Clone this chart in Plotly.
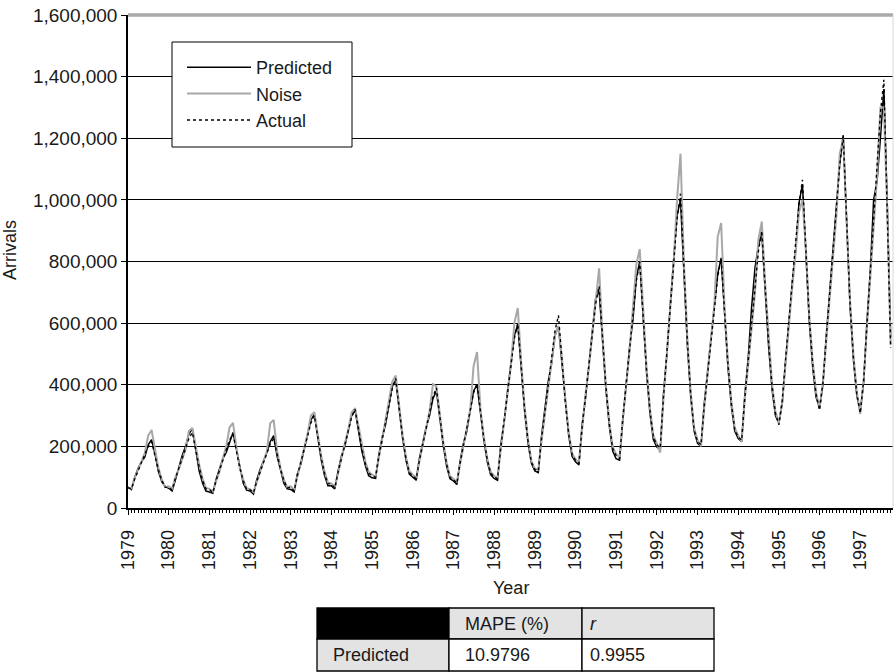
import pandas as pd
import plotly.graph_objects as go

# Monthly tourist arrivals, Jan 1979 - Oct 1997 (thousands)
actual_k = [
    66, 62, 93, 120, 146, 172, 200, 215, 168, 124, 89, 67,
    67, 58, 95, 129, 161, 193, 226, 245, 187, 132, 89, 62,
    60, 50, 88, 122, 155, 187, 221, 240, 183, 130, 88, 61,
    59, 50, 85, 117, 146, 176, 208, 225, 174, 126, 89, 65,
    67, 55, 104, 148, 190, 231, 276, 300, 230, 164, 112, 79,
    78, 65, 116, 162, 205, 249, 295, 320, 254, 192, 144, 113,
    104, 100, 164, 222, 276, 330, 388, 420, 323, 232, 160, 115,
    104, 95, 154, 207, 257, 307, 361, 390, 297, 210, 142, 99,
    92, 80, 145, 204, 259, 314, 373, 405, 312, 225, 157, 114,
    100, 95, 196, 287, 373, 459, 550, 600, 456, 322, 216, 149,
    125, 120, 221, 312, 398, 484, 575, 625, 481, 347, 241, 174,
    155, 145, 260, 364, 461, 559, 663, 720, 552, 395, 272, 194,
    170, 160, 288, 403, 512, 621, 736, 800, 619, 449, 316, 231,
    205, 195, 360, 509, 649, 789, 938, 1020, 776, 547, 368, 254,
    215, 205, 326, 435, 538, 641, 750, 810, 633, 468, 338, 255,
    230, 220, 356, 478, 594, 710, 832, 900, 711, 535, 396, 308,
    270, 350, 477, 604, 723, 842, 986, 1065, 826, 617, 467, 370,
    318, 407, 549, 691, 824, 957, 1116, 1205, 918, 667, 487, 371,
    308, 416, 589, 762, 925, 1087, 1282, 1390, 950, 520,
]

predicted_k = [
    68, 60, 98, 128, 150, 165, 205, 222, 175, 118, 85, 70,
    64, 55, 90, 135, 170, 200, 240, 258, 180, 120, 80, 55,
    52, 48, 92, 130, 160, 180, 215, 245, 190, 135, 80, 58,
    55, 45, 90, 125, 150, 180, 215, 235, 168, 120, 80, 62,
    60, 52, 110, 140, 185, 240, 285, 305, 225, 158, 105, 72,
    72, 62, 120, 170, 200, 255, 300, 318, 248, 185, 138, 105,
    98, 96, 170, 230, 270, 335, 395, 415, 318, 228, 155, 110,
    100, 90, 160, 215, 262, 300, 355, 380, 290, 205, 135, 95,
    88, 76, 150, 210, 250, 320, 380, 400, 305, 220, 150, 108,
    96, 90, 205, 280, 380, 470, 560, 595, 450, 315, 210, 145,
    120, 115, 230, 320, 410, 470, 560, 590, 470, 340, 235, 168,
    150, 140, 270, 355, 470, 570, 680, 707, 540, 385, 265, 185,
    160, 155, 280, 410, 520, 610, 745, 800, 610, 440, 305, 222,
    198, 190, 370, 500, 660, 800, 950, 1000, 760, 530, 360, 250,
    210, 200, 335, 445, 545, 650, 760, 812, 620, 455, 330, 250,
    225, 215, 365, 490, 650, 780, 850, 890, 700, 525, 385, 300,
    275, 340, 470, 615, 730, 835, 990, 1050, 815, 605, 455, 360,
    325, 400, 555, 700, 815, 965, 1120, 1210, 905, 655, 480, 365,
    312, 410, 600, 770, 1000, 1060, 1200, 1360, 980, 555,
]

noise_k = [
    65, 64, 96, 125, 155, 178, 235, 253, 190, 130, 92, 68,
    70, 62, 100, 125, 158, 190, 250, 260, 200, 140, 95, 65,
    62, 53, 85, 118, 160, 200, 262, 276, 195, 128, 92, 64,
    61, 52, 82, 120, 150, 185, 275, 286, 185, 130, 92, 68,
    70, 58, 100, 150, 195, 240, 300, 311, 240, 170, 118, 82,
    80, 68, 112, 165, 210, 255, 310, 324, 265, 198, 150, 118,
    108, 102, 160, 225, 280, 340, 410, 430, 330, 238, 165, 120,
    108, 98, 150, 210, 260, 315, 402, 395, 305, 215, 148, 103,
    95, 84, 140, 200, 265, 320, 460, 506, 320, 230, 160, 118,
    104, 98, 190, 290, 365, 465, 600, 649, 470, 330, 222, 152,
    128, 124, 215, 305, 395, 480, 560, 590, 490, 355, 248, 178,
    158, 148, 255, 370, 455, 565, 690, 778, 560, 400, 278, 198,
    175, 165, 285, 395, 505, 650, 790, 840, 630, 455, 322, 236,
    210, 180, 355, 515, 640, 800, 1000, 1150, 790, 555, 375, 260,
    220, 200, 320, 430, 530, 660, 880, 925, 645, 475, 345, 260,
    235, 215, 350, 470, 590, 700, 870, 930, 720, 545, 402, 314,
    275, 345, 470, 610, 715, 830, 960, 1000, 840, 625, 475, 375,
    322, 410, 545, 685, 830, 950, 1150, 1200, 925, 675, 495, 378,
    305, 420, 580, 750, 930, 1080, 1300, 1300, 960, 530,
]

y_ticks = [0, 200000, 400000, 600000, 800000, 1000000, 1200000, 1400000, 1600000]

table_header = ["", "MAPE (%)", "<i>r</i>"]
table_row = ["Predicted", "10.9796", "0.9955"]

months = pd.date_range("1979-01-01", periods=len(actual_k), freq="MS")

def scale(values):
    return [v * 1000 for v in values]

# ---- figure geometry (pixels) ----
W, H = 895, 672
ML, MR, MT, MB = 128, 2, 15, 164
PW, PH = W - ML - MR, H - MT - MB

def px(xp):
    return (xp - ML) / PW

def py(yp):
    return (H - MB - yp) / PH

FONT = "Liberation Sans, Arial, Helvetica, sans-serif"
INK = "#1a1a1a"

fig = go.Figure()
fig.add_trace(go.Scatter(
    x=months, y=scale(predicted_k), mode="lines", name="Predicted",
    legendgroup="p", line=dict(color="#000000", width=1.5)))
fig.add_trace(go.Scatter(
    x=months, y=scale(noise_k), mode="lines", name="Noise",
    legendgroup="n", line=dict(color="#a8a8a8", width=2)))
fig.add_trace(go.Scatter(
    x=months, y=scale(actual_k), mode="lines", name="Actual",
    legendgroup="a", line=dict(color="#000000", width=1.4, dash="dot")))

shapes = [
    # soft grey frame on top and right of the plot area
    dict(type="line", xref="paper", yref="paper", x0=0, x1=1, y0=1, y1=1,
         line=dict(color="#a9a9a9", width=3.5), layer="above"),
    dict(type="line", xref="paper", yref="paper", x0=1, x1=1, y0=0, y1=1,
         line=dict(color="#d8d8d8", width=1), layer="above"),
    # legend frame
    dict(type="rect", xref="paper", yref="paper",
         x0=px(172), x1=px(352), y0=py(147), y1=py(42),
         fillcolor="white", line=dict(color="#000000", width=1), layer="above"),
]

# ---- statistics table under the chart ----
col_edges = [317, 449, 582, 714]
row_edges = [608, 639, 671]
header_fill = ["#000000", "#e3e3e3", "#e3e3e3"]
row_fill = ["#e3e3e3", "#ffffff", "#ffffff"]
text_pad = [14, 14, 6]

annotations = []
for r, (fills, texts) in enumerate([(header_fill, table_header), (row_fill, table_row)]):
    for c in range(3):
        shapes.append(dict(
            type="rect", xref="paper", yref="paper",
            x0=px(col_edges[c]), x1=px(col_edges[c + 1]),
            y0=py(row_edges[r + 1]), y1=py(row_edges[r]),
            fillcolor=fills[c], line=dict(color="#000000", width=1.3)))
        if texts[c]:
            annotations.append(dict(
                xref="paper", yref="paper",
                x=px(col_edges[c] + text_pad[c]),
                y=py((row_edges[r] + row_edges[r + 1]) / 2),
                xanchor="left", yanchor="middle", showarrow=False,
                text=texts[c], font=dict(family=FONT, size=18, color=INK)))

annotations.append(dict(
    xref="paper", yref="paper", x=0.5, y=py(588), xanchor="center",
    yanchor="middle", showarrow=False, text="Year",
    font=dict(family=FONT, size=18, color=INK)))
annotations.append(dict(
    xref="paper", yref="paper", x=px(10), y=py(250), xanchor="center",
    yanchor="middle", showarrow=False, text="Arrivals", textangle=-90,
    font=dict(family=FONT, size=18, color=INK)))

fig.update_layout(
    width=W, height=H,
    margin=dict(l=ML, r=MR, t=MT, b=MB, pad=0),
    paper_bgcolor="white", plot_bgcolor="white",
    font=dict(family=FONT, size=18, color=INK),
    showlegend=True,
    legend=dict(
        x=px(182), y=py(49), xanchor="left", yanchor="top",
        bgcolor="rgba(0,0,0,0)", borderwidth=0,
        font=dict(family=FONT, size=18, color=INK),
        itemwidth=64, tracegroupgap=4, traceorder="normal"),
    xaxis=dict(
        type="date", range=["1979-01-01", "1997-10-22"],
        tick0="1979-01-01", dtick="M12", tickformat="%Y", tickangle=-90,
        ticks="outside", ticklen=5, tickcolor="#000000",
        ticklabelstandoff=8,
        showline=True, linecolor="#000000", linewidth=1.5,
        showgrid=False, zeroline=False,
        tickfont=dict(family=FONT, size=18, color=INK),
        minor=dict(dtick="M1", ticks="outside", ticklen=3,
                   tickcolor="#000000", showgrid=False),
    ),
    yaxis=dict(
        range=[0, 1600000], tickvals=y_ticks, tickformat=",",
        ticks="outside", ticklen=5, tickcolor="#000000",
        showline=True, linecolor="#000000", linewidth=1.5,
        showgrid=True, gridcolor="#000000", gridwidth=1.2,
        zeroline=False,
        tickfont=dict(family=FONT, size=19, color=INK),
    ),
    shapes=shapes,
    annotations=annotations,
)

fig.write_html("out.html")
